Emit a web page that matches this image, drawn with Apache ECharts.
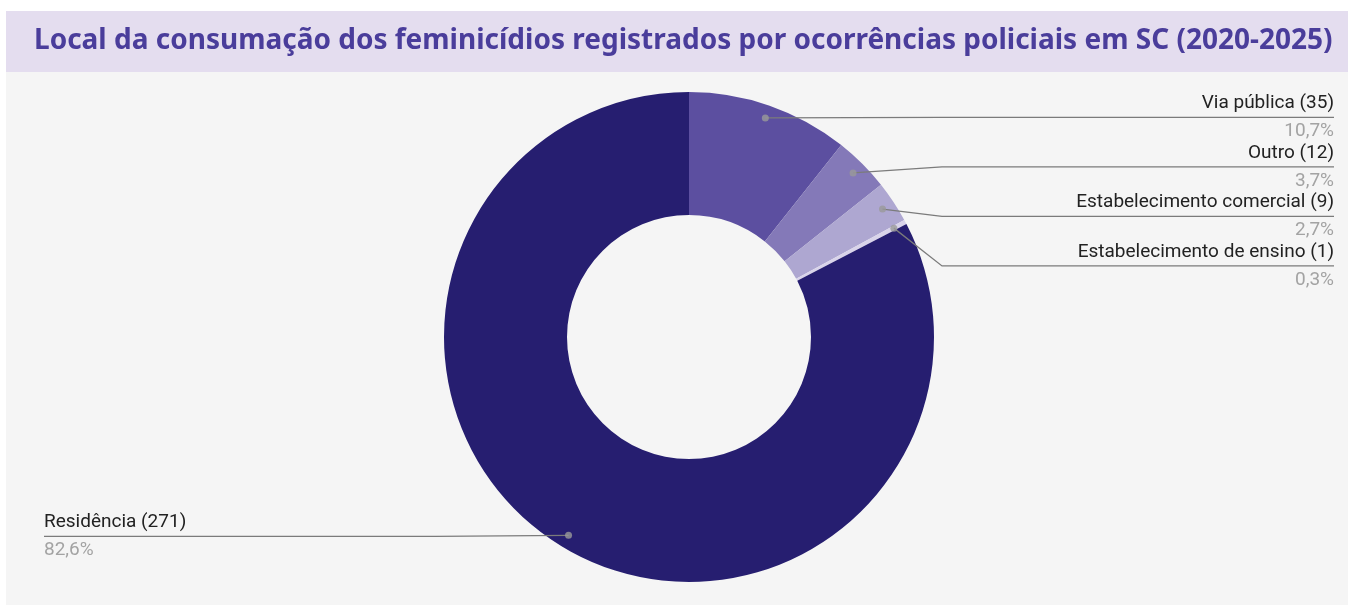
<!DOCTYPE html>
<html>
<head>
<meta charset="utf-8">
<title>Local da consumação dos feminicídios</title>
<script src="https://cdn.jsdelivr.net/npm/echarts@6/dist/echarts.min.js"></script>
<style>
  html, body { margin: 0; padding: 0; background: #fff; }
  #chart { width: 1348px; height: 605px; }
</style>
</head>
<body>
<div id="chart"></div>
<script>
// dados
const categories = ["Via pública", "Outro", "Estabelecimento comercial", "Estabelecimento de ensino", "Residência"];
const counts = [35, 12, 9, 1, 271];
const colors = ["#5c4fa0", "#8479b8", "#aea7d1", "#d9d4ea", "#261e70"];
const titleText = "Local da consumação dos feminicídios registrados por ocorrências policiais em SC (2020-2025)";

// geometria (px)
const CX = 689, CY = 337;
const R_IN = 122, R_OUT = 245, R_DOT = 232;
const RIGHT_X = 1334, LEFT_X = 44, GAP = 49.5;

const total = counts.reduce((a, b) => a + b, 0);
let acc = 0;
const mids = counts.map(v => { const m = acc + v / 2; acc += v; return m; });

function dotOf(i) {
    const t = mids[i] / total * Math.PI * 2;
    return [CX + R_DOT * Math.sin(t), CY - R_DOT * Math.cos(t)];
}

// posições das linhas do lado direito: empilhadas a partir do primeiro ponto
const lineY = {};
let firstRight = null, k = 0;
counts.forEach((v, i) => {
    const d = dotOf(i);
    if (d[0] >= CX) {
        if (firstRight === null) firstRight = d[1] - 0.5;
        lineY[i] = firstRight + GAP * k;
        k++;
    } else {
        lineY[i] = d[1] + 1;
    }
});

const chart = echarts.init(document.getElementById("chart"));

const pieData = categories.map((c, i) => ({ name: c, value: counts[i] }));

const option = {
    backgroundColor: "#ffffff",
    animation: false,
    graphic: [
        { type: "rect", shape: { x: 6, y: 11, width: 1342, height: 61 }, style: { fill: "#e4ddef" }, z: -10 },
        { type: "rect", shape: { x: 6, y: 72, width: 1342, height: 533 }, style: { fill: "#f5f5f5" }, z: -10 }
    ],
    title: {
        text: titleText,
        left: 34,
        top: 26,
        padding: 0,
        textStyle: {
            fontFamily: "Noto Sans",
            fontWeight: "bold",
            fontSize: 28,
            lineHeight: 30,
            color: "#4a3d9b"
        }
    },
    polar: { center: [CX, CY], radius: R_OUT },
    angleAxis: { type: "value", min: 0, max: total, startAngle: 90, clockwise: true, show: false },
    radiusAxis: { type: "value", min: 0, max: R_OUT, show: false },
    series: [
        {
            // fatias
            type: "pie",
            z: 2,
            center: [CX, CY],
            radius: [R_IN, R_OUT],
            startAngle: 90,
            clockwise: true,
            silent: true,
            label: { show: false },
            labelLine: { show: false },
            data: pieData.map((d, i) => ({ name: d.name, value: d.value, itemStyle: { color: colors[i] } }))
        },
        {
            // rótulos e linhas-guia por cima das fatias
            type: "pie",
            z: 3,
            center: [CX, CY],
            radius: [R_IN, R_OUT],
            startAngle: 90,
            clockwise: true,
            silent: true,
            avoidLabelOverlap: false,
            percentPrecision: 1,
            itemStyle: { color: "rgba(0,0,0,0)" },
            data: pieData,
            label: {
                show: true,
                position: "outside",
                fontFamily: "Roboto",
                formatter: p => "{n|" + p.name + " (" + p.value + ")}\n{p|" + p.percent.toFixed(1).replace(".", ",") + "%}",
                rich: {
                    n: { fontFamily: "Roboto", fontSize: 19, lineHeight: 28, color: "#222222" },
                    p: { fontFamily: "Roboto", fontSize: 19, lineHeight: 28, color: "#a3a3a3" }
                }
            },
            labelLine: {
                show: true,
                length: 10,
                length2: 10,
                lineStyle: { color: "#7b7b7b", width: 1.3, opacity: 1 }
            },
            labelLayout: function (params) {
                const i = params.dataIndex;
                const d = dotOf(i);
                const right = d[0] >= CX;
                const y = lineY[i];
                const elbowX = right ? CX + R_OUT + 8 : CX - R_OUT - 8;
                const endX = right ? RIGHT_X : LEFT_X;
                return {
                    x: endX,
                    y: y,
                    align: right ? "right" : "left",
                    verticalAlign: "middle",
                    labelLinePoints: [d, [elbowX, y], [endX, y]]
                };
            }
        },
        {
            type: "scatter",
            coordinateSystem: "polar",
            symbol: "circle",
            symbolSize: 7,
            silent: true,
            z: 5,
            itemStyle: { color: "#9a9a9a" },
            data: mids.map(m => [R_DOT, m])
        }
    ]
};

chart.setOption(option);
</script>
</body>
</html>
